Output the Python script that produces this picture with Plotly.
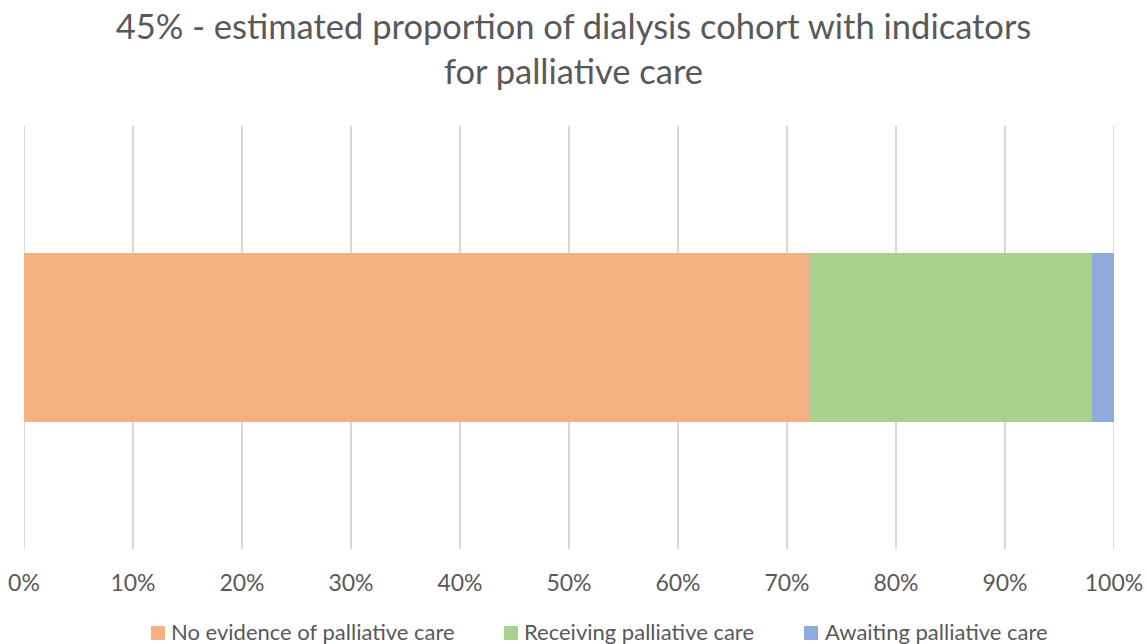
import plotly.graph_objects as go

# Share of the dialysis cohort with palliative-care indicators, by care status (%)
categories = ["Cohort"]
series_names = ["No evidence of palliative care", "Receiving palliative care", "Awaiting palliative care"]
series_values = [[72], [26], [2]]
series_colors = ["#F4B183", "#A9D18E", "#8FAADC"]
tick_values = [0, 10, 20, 30, 40, 50, 60, 70, 80, 90, 100]
tick_labels = ["0%", "10%", "20%", "30%", "40%", "50%", "60%", "70%", "80%", "90%", "100%"]

text_color = "#595959"
grid_color = "#D9D9D9"
font_family = "Lato, Open Sans, sans-serif"

W, H = 1147, 644
M_L, M_R, M_T, M_B = 24, 33, 126, 95
plot_w = W - M_L - M_R
plot_h = H - M_T - M_B


def px_to_paper_x(px):
    return (px - M_L) / plot_w


def px_to_paper_y(py):
    return (H - M_B - py) / plot_h


fig = go.Figure()
for name, vals, color in zip(series_names, series_values, series_colors):
    fig.add_trace(go.Bar(
        x=vals, y=categories, name=name, orientation="h",
        marker=dict(color=color, line=dict(width=0)),
        width=0.4, showlegend=False,
    ))

# Gridlines at both ends of the axis (Plotly drops the ones on the plot edges)
for edge in (tick_values[0], tick_values[-1]):
    fig.add_shape(
        type="line", xref="x", yref="paper", x0=edge, x1=edge, y0=0, y1=1,
        line=dict(color=grid_color, width=2), layer="below",
    )

# Legend row below the axis: colour square followed by the series name
legend_square_left = [151, 504, 804]
legend_text_left = [169, 522, 823]
legend_center_y = 633
text_center_y = 631.5
sq = 14
for name, color, sx, tx in zip(series_names, series_colors, legend_square_left, legend_text_left):
    fig.add_shape(
        type="rect", xref="paper", yref="paper",
        x0=px_to_paper_x(sx), x1=px_to_paper_x(sx + sq),
        y0=px_to_paper_y(legend_center_y - sq / 2), y1=px_to_paper_y(legend_center_y + sq / 2),
        fillcolor=color, line=dict(width=0),
    )
    fig.add_annotation(
        text=name, xref="paper", yref="paper",
        x=px_to_paper_x(tx), y=px_to_paper_y(text_center_y),
        xanchor="left", yanchor="middle", showarrow=False,
        font=dict(size=22, color=text_color, family=font_family),
    )

fig.update_layout(
    barmode="stack",
    width=W, height=H,
    margin=dict(l=M_L, r=M_R, t=M_T, b=M_B, autoexpand=False),
    paper_bgcolor="white", plot_bgcolor="white",
    font=dict(family=font_family, color=text_color, size=23),
    title=dict(
        text="45% - estimated proportion of dialysis cohort with indicators<br>for palliative care",
        x=0.5, xanchor="center", xref="container",
        y=1 - 39 / H, yanchor="middle", yref="container",
        font=dict(size=34.5, color=text_color, family=font_family),
    ),
    xaxis=dict(
        range=[0, 100], tickvals=tick_values, ticktext=tick_labels,
        showgrid=True, gridcolor=grid_color, gridwidth=2,
        zeroline=False, showline=False, automargin=False,
        ticks="", ticklabelstandoff=18,
        tickfont=dict(size=23, color=text_color, family=font_family),
    ),
    yaxis=dict(
        range=[-0.5, 0.5], showticklabels=False, showgrid=False,
        zeroline=False, showline=False, automargin=False,
    ),
    showlegend=False,
)

fig.write_html("out.html")
